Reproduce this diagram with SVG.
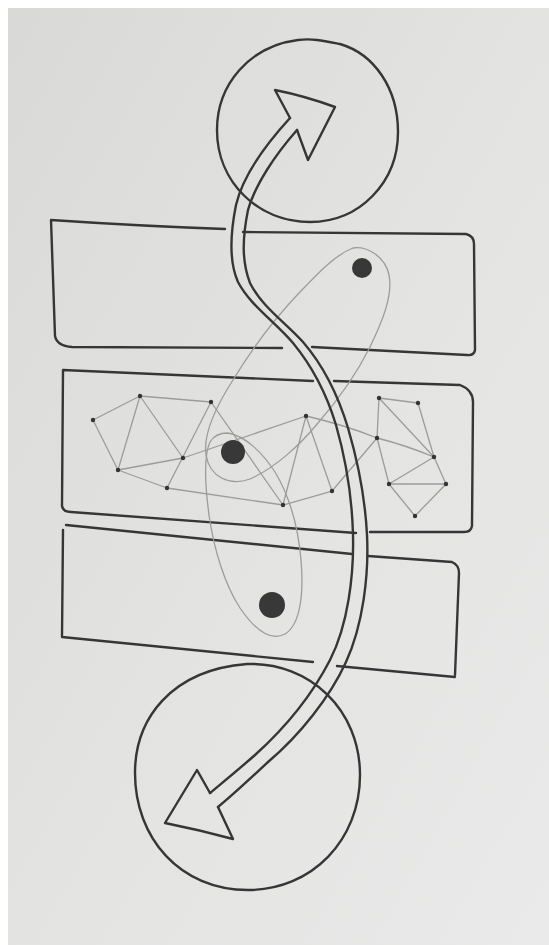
<svg xmlns="http://www.w3.org/2000/svg" width="549" height="945" viewBox="0 0 549 945">
<defs>
<linearGradient id="paper" x1="0" y1="0" x2="1" y2="1">
<stop offset="0" stop-color="#d9d9d7"/>
<stop offset="0.5" stop-color="#e3e3e2"/>
<stop offset="1" stop-color="#eaeaea"/>
</linearGradient>
<style>
.ink{fill:none;stroke:#363636;stroke-width:2.4;stroke-linecap:round;stroke-linejoin:round}
.pen{fill:none;stroke:#9c9c9c;stroke-width:1.3;stroke-linecap:round;stroke-linejoin:round}
.dot{fill:#383838}
.nd{fill:#333}
</style>
</defs>
<rect x="0" y="0" width="549" height="945" fill="#ffffff"/>
<rect x="8" y="8" width="541" height="937" fill="url(#paper)"/>

<g id="circle-top"><path class="ink" d="M298,40 C312,38 325,41 340,44 C374,54 398,88 398,132 C398,182 360,222 310,222 C258,222 217,182 217,130 C217,84 250,46 298,40 Z"/></g>
<g id="circle-bottom"><path class="ink" d="M247,664 C310,662 360,710 360,775 C360,840 312,890 248,890 C180,890 135,838 135,773 C135,720 170,670 247,664 Z"/></g>

<g id="layer-1">
<path class="ink" d="M225,229 Q140,226 51,220 L55,336 Q57,346 72,347 L282,348"/>
<path class="ink" d="M243,232 L466,234 Q474,236 474,244 L475,350 Q474,356 467,355 L312,347"/>
</g>
<g id="layer-2">
<path class="ink" d="M313,381 L63,370 L62,506 Q63,512 71,512 L356,533"/>
<path class="ink" d="M334,381 L460,385 Q473,390 473,402 L472,526 Q471,532 464,532 L370,532"/>
</g>
<g id="layer-3">
<path class="ink" d="M352,554 L66,525 M63,530 L62,637 L313,662"/>
<path class="ink" d="M368,556 L452,562 Q459,565 459,573 L455,675 M337,666 L455,677"/>
</g>

<g id="connectors">
<g id="groupings">
<path class="pen" d="M353,248 C365,246 385,255 389,275 C393,295 383,320 370,347 C356,375 338,400 318,423 C300,445 275,468 250,479 C230,486 210,478 206,455 C203,435 215,408 233,380 C250,352 275,318 300,292 C318,273 335,255 353,248 Z"/>
<path class="pen" d="M228,433 C245,436 262,452 275,472 C290,497 298,525 301,560 C304,595 300,625 285,634 C270,642 255,630 240,608 C225,585 214,550 209,515 C205,485 204,455 210,442 C214,435 220,433 228,433 Z"/>
</g>
<g id="network-edges">
<path class="pen" d="M93,420 L140,396 M93,420 L118,470 M140,396 L118,470 M140,396 L183,458 M140,396 L211,402 M118,470 L183,458 M118,470 L167,488 M211,402 L167,488 M211,402 L283,505 M183,458 L306,416 M167,488 L283,505 M306,416 L283,505 M306,416 L332,491 M332,491 L283,505 M306,416 Q345,425 377,438 M377,438 L332,491"/>
<path class="pen" d="M379,398 L418,403 M379,398 L377,438 M379,398 L434,457 M418,403 L434,457 M434,457 L446,484 M377,438 Q405,445 434,457 M434,457 L389,484 M389,484 L446,484 M377,438 L389,484 M389,484 L415,516 M446,484 L415,516"/>
</g>
<g id="journey-arrow">
<path class="ink" d="M290,118 C268,142 243,175 236,205 C230,235 229,262 238,282 C250,305 275,322 293,343 C312,366 326,392 336,425 C346,460 352,495 353,535 C354,575 348,625 330,660 C312,695 285,728 255,755 C238,770 222,783 210,793"/>
<path class="ink" d="M297,130 C275,155 255,185 248,210 C242,240 242,262 250,283 C262,307 285,322 303,342 C322,364 338,395 348,428 C358,462 365,495 367,535 C369,575 363,625 346,662 C330,697 300,735 268,762 C252,777 235,793 218,807"/>
<path class="ink" d="M290,118 L275,90 Q305,96 335,107 L308,160 L297,130"/>
<path class="ink" d="M210,793 L197,770 L165,823 Q200,830 233,839 L218,807"/>
</g>
</g>

<g id="dot-1"><circle class="dot" cx="362" cy="268" r="10"/></g>
<g id="dot-2"><circle class="dot" cx="233" cy="452" r="12"/></g>
<g id="dot-3"><circle class="dot" cx="272" cy="605" r="13"/></g>

<g id="net-a"><circle class="nd" cx="93" cy="420" r="2.2"/></g>
<g id="net-b"><circle class="nd" cx="140" cy="396" r="2.2"/></g>
<g id="net-c"><circle class="nd" cx="211" cy="402" r="2.2"/></g>
<g id="net-d"><circle class="nd" cx="118" cy="470" r="2.2"/></g>
<g id="net-e"><circle class="nd" cx="183" cy="458" r="2.2"/></g>
<g id="net-f"><circle class="nd" cx="167" cy="488" r="2.2"/></g>
<g id="net-g"><circle class="nd" cx="283" cy="505" r="2.2"/></g>
<g id="net-h"><circle class="nd" cx="306" cy="416" r="2.2"/></g>
<g id="net-i"><circle class="nd" cx="332" cy="491" r="2.2"/></g>
<g id="net-j"><circle class="nd" cx="379" cy="398" r="2.2"/></g>
<g id="net-k"><circle class="nd" cx="418" cy="403" r="2.2"/></g>
<g id="net-l"><circle class="nd" cx="377" cy="438" r="2.2"/></g>
<g id="net-m"><circle class="nd" cx="434" cy="457" r="2.2"/></g>
<g id="net-n"><circle class="nd" cx="389" cy="484" r="2.2"/></g>
<g id="net-o"><circle class="nd" cx="446" cy="484" r="2.2"/></g>
<g id="net-p"><circle class="nd" cx="415" cy="516" r="2.2"/></g>
</svg>
